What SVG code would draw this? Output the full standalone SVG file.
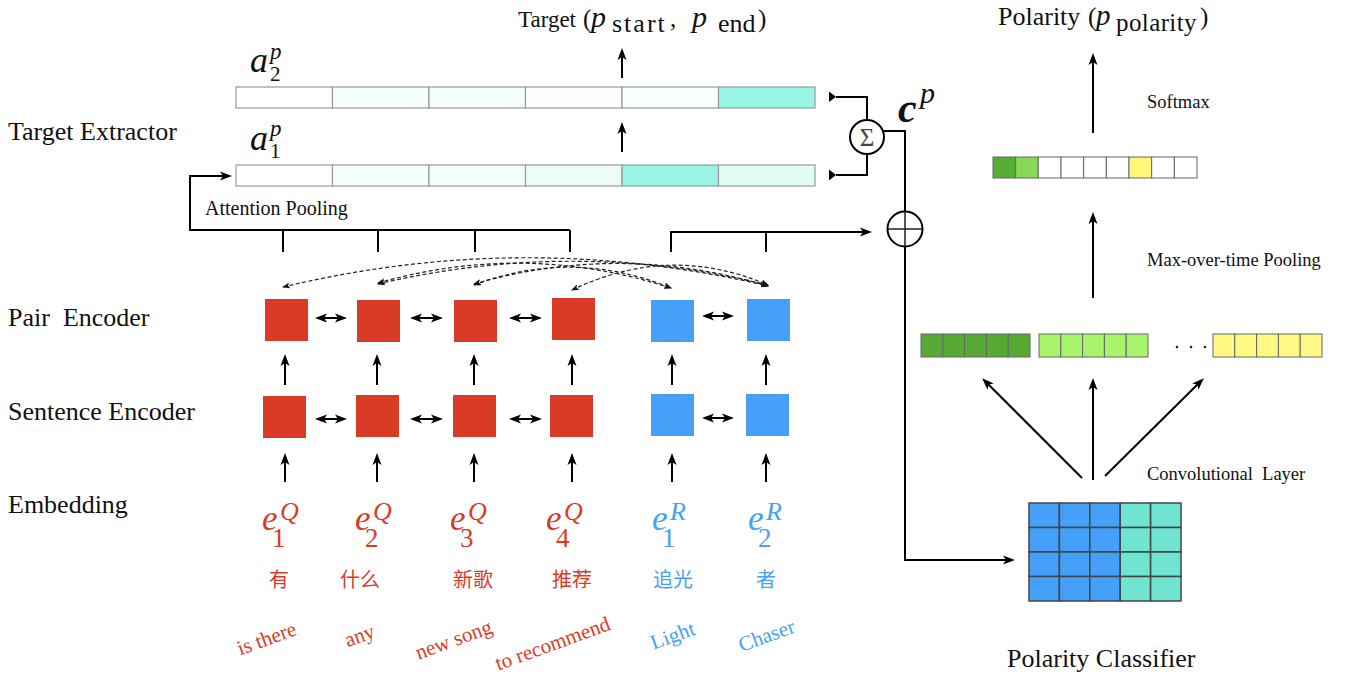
<svg xmlns="http://www.w3.org/2000/svg" width="1348" height="677" viewBox="0 0 1348 677">
<style>
text{font-family:"Liberation Serif","Times New Roman",serif;fill:#111}
.lab{font-size:26px;white-space:pre}
.sm{font-size:18.5px;white-space:pre}
.it{font-style:italic}
.ln{stroke:#000;stroke-width:2;fill:none}
.ar{marker-end:url(#ah)}
.dar{marker-start:url(#ah);marker-end:url(#ah)}
.dash{stroke:#222;stroke-width:1.2;stroke-dasharray:4 2.5;fill:none;marker-start:url(#dh);marker-end:url(#dh)}
.cell{stroke:#999;stroke-width:1.2}
.red{fill:#da3b26}
.blue{fill:#47a0f7}
.vc{stroke:#666;stroke-width:1}
.gc{stroke:#444;stroke-width:1.5}
.cjk{font-family:"Noto Sans CJK SC",sans-serif;font-size:20px;text-anchor:middle}
.eng{font-size:21px;text-anchor:middle}
.emb{font-size:35px;font-style:italic}
.sup{font-size:26px;font-style:italic}
.sub{font-size:27px;font-style:normal}
</style>
<defs>
<marker id="ah" viewBox="0 0 12 10" markerWidth="12" markerHeight="10" refX="8" refY="5" orient="auto-start-reverse" markerUnits="userSpaceOnUse">
<path d="M0,0.5 L12,5 L0,9.5 L3,5 z" fill="#000"/>
</marker>
<marker id="dh" viewBox="0 0 8 6" markerWidth="8" markerHeight="6" refX="7" refY="3" orient="auto-start-reverse" markerUnits="userSpaceOnUse">
<path d="M0,0 L8,3 L0,6 L2,3 z" fill="#111"/>
</marker>
</defs>

<g id="layer-labels">
<text class="lab" x="8" y="140">Target Extractor</text>
<text class="lab" x="8" y="326">Pair  Encoder</text>
<text class="lab" x="8" y="420">Sentence Encoder</text>
<text class="lab" x="8" y="513">Embedding</text>
</g>

<g id="target-title">
<text x="518" y="27" style="font-size:23px">Target<tspan x="583" style="font-size:25px">(</tspan><tspan x="591" class="it" style="font-size:30px">p</tspan><tspan x="612" y="32" style="font-size:26px;letter-spacing:2px">start</tspan><tspan x="670" y="27" style="font-size:25px">,</tspan><tspan x="692" class="it" style="font-size:30px">p</tspan><tspan x="718" y="32" style="font-size:26px">end</tspan><tspan x="758" y="27" style="font-size:25px">)</tspan></text>
</g>

<g id="a2-bar">
<text class="it" x="250" y="72" style="font-size:36px">a<tspan x="270" y="59" style="font-size:23px">p</tspan><tspan x="270" y="81" style="font-size:21px;font-style:normal">2</tspan></text>
<rect class="cell" x="236" y="87" width="96.5" height="21" fill="#ffffff"/>
<rect class="cell" x="332.5" y="87" width="96.5" height="21" fill="#f3fdfb"/>
<rect class="cell" x="429" y="87" width="96.5" height="21" fill="#f3fdfb"/>
<rect class="cell" x="525.5" y="87" width="96.5" height="21" fill="#fbfefd"/>
<rect class="cell" x="622" y="87" width="96.5" height="21" fill="#f8fefd"/>
<rect class="cell" x="718.5" y="87" width="96.5" height="21" fill="#98f5e5"/>
</g>

<g id="a1-bar">
<text class="it" x="250" y="150" style="font-size:36px">a<tspan x="270" y="136" style="font-size:23px">p</tspan><tspan x="270" y="158" style="font-size:21px;font-style:normal">1</tspan></text>
<rect class="cell" x="236" y="165" width="96.5" height="21" fill="#ffffff"/>
<rect class="cell" x="332.5" y="165" width="96.5" height="21" fill="#f3fdfb"/>
<rect class="cell" x="429" y="165" width="96.5" height="21" fill="#f3fdfb"/>
<rect class="cell" x="525.5" y="165" width="96.5" height="21" fill="#eefcf9"/>
<rect class="cell" x="622" y="165" width="96.5" height="21" fill="#98f5e5"/>
<rect class="cell" x="718.5" y="165" width="96.5" height="21" fill="#e2fcf7"/>
</g>

<g id="attention-pooling">
<text x="205" y="215" style="font-size:20px">Attention Pooling</text>
</g>

<g id="sum-node">
<circle cx="867" cy="137" r="17" fill="#fff" stroke="#000" stroke-width="2"/>
<text x="867" y="146" style="font-size:25px;text-anchor:middle;fill:#444">Σ</text>
<text x="898" y="122" style="font-size:42px;font-weight:bold;font-style:italic">c<tspan x="920" y="103" style="font-size:30px;font-weight:normal">p</tspan></text>
</g>

<g id="plus-node">
<circle cx="905" cy="229" r="17.5" fill="#fff" stroke="#000" stroke-width="2"/>
<path d="M887.5,229 H922.5 M905,211.5 V246.5" stroke="#222" stroke-width="1.5"/>
</g>

<g id="pair-encoder">
<rect class="red" x="265" y="299" width="43" height="42"/>
<rect class="red" x="357" y="300" width="43" height="42"/>
<rect class="red" x="454" y="300" width="43" height="42"/>
<rect class="red" x="552" y="298" width="43" height="42"/>
<rect class="blue" x="651" y="300" width="43" height="42"/>
<rect class="blue" x="747" y="299" width="43" height="42"/>
</g>

<g id="sentence-encoder">
<rect class="red" x="263" y="396" width="43" height="42"/>
<rect class="red" x="356" y="395" width="43" height="42"/>
<rect class="red" x="453" y="395" width="43" height="42"/>
<rect class="red" x="550" y="395" width="43" height="42"/>
<rect class="blue" x="651" y="394" width="43" height="42"/>
<rect class="blue" x="746" y="394" width="43" height="42"/>
</g>

<g id="embeddings">
<text class="emb red" x="262" y="530">e<tspan class="sup" x="280" y="520">Q</tspan><tspan class="sub" x="272" y="547">1</tspan></text>
<text class="emb red" x="355" y="530">e<tspan class="sup" x="373" y="520">Q</tspan><tspan class="sub" x="365" y="547">2</tspan></text>
<text class="emb red" x="450" y="530">e<tspan class="sup" x="468" y="520">Q</tspan><tspan class="sub" x="460" y="547">3</tspan></text>
<text class="emb red" x="546" y="530">e<tspan class="sup" x="564" y="520">Q</tspan><tspan class="sub" x="556" y="547">4</tspan></text>
<text class="emb blue" x="652" y="530">e<tspan class="sup" x="670" y="520">R</tspan><tspan class="sub" x="662" y="547">1</tspan></text>
<text class="emb blue" x="748" y="530">e<tspan class="sup" x="766" y="520">R</tspan><tspan class="sub" x="758" y="547">2</tspan></text>
<text class="cjk red" x="279" y="587">有</text>
<text class="cjk red" x="360" y="587">什么</text>
<text class="cjk red" x="473" y="587">新歌</text>
<text class="cjk red" x="572" y="587">推荐</text>
<text class="cjk blue" x="673" y="587">追光</text>
<text class="cjk blue" x="766" y="587">者</text>
<text class="eng red" x="269" y="645" transform="rotate(-20 269 645)">is there</text>
<text class="eng red" x="362" y="642" transform="rotate(-20 362 642)">any</text>
<text class="eng red" x="456" y="646" transform="rotate(-20 456 646)">new song</text>
<text class="eng red" x="555" y="650" transform="rotate(-20 555 650)">to recommend</text>
<text class="eng blue" x="675" y="642" transform="rotate(-20 675 642)">Light</text>
<text class="eng blue" x="769" y="642" transform="rotate(-20 769 642)">Chaser</text>
</g>

<g id="polarity-title">
<text x="998" y="25" style="font-size:26px">Polarity<tspan x="1088" style="font-size:25px">(</tspan><tspan x="1096" class="it" style="font-size:29px">p</tspan><tspan x="1116" y="31" style="font-size:25px;letter-spacing:0.4px">polarity</tspan><tspan x="1200" y="25" style="font-size:25px">)</tspan></text>
</g>

<g id="softmax">
<text class="sm" x="1147" y="108">Softmax</text>
<rect class="vc" x="993" y="157" width="22.67" height="21" fill="#55ad35"/>
<rect class="vc" x="1015.67" y="157" width="22.67" height="21" fill="#88d858"/>
<rect class="vc" x="1038.33" y="157" width="22.67" height="21" fill="#fff"/>
<rect class="vc" x="1061" y="157" width="22.67" height="21" fill="#fff"/>
<rect class="vc" x="1083.67" y="157" width="22.67" height="21" fill="#fff"/>
<rect class="vc" x="1106.33" y="157" width="22.67" height="21" fill="#fff"/>
<rect class="vc" x="1129" y="157" width="22.67" height="21" fill="#fff87a"/>
<rect class="vc" x="1151.67" y="157" width="22.67" height="21" fill="#fff"/>
<rect class="vc" x="1174.33" y="157" width="22.67" height="21" fill="#fff"/>
</g>

<g id="max-pooling">
<text class="sm" x="1147" y="266">Max-over-time Pooling</text>
<g fill="#56aa33">
<rect class="vc" x="921" y="334" width="21.8" height="23"/><rect class="vc" x="942.8" y="334" width="21.8" height="23"/><rect class="vc" x="964.6" y="334" width="21.8" height="23"/><rect class="vc" x="986.4" y="334" width="21.8" height="23"/><rect class="vc" x="1008.2" y="334" width="21.8" height="23"/>
</g>
<g fill="#a8f46a">
<rect class="vc" x="1039" y="334" width="21.8" height="23"/><rect class="vc" x="1060.8" y="334" width="21.8" height="23"/><rect class="vc" x="1082.6" y="334" width="21.8" height="23"/><rect class="vc" x="1104.4" y="334" width="21.8" height="23"/><rect class="vc" x="1126.2" y="334" width="21.8" height="23"/>
</g>
<g fill="#fff882">
<rect class="vc" x="1213" y="334" width="21.8" height="23"/><rect class="vc" x="1234.8" y="334" width="21.8" height="23"/><rect class="vc" x="1256.6" y="334" width="21.8" height="23"/><rect class="vc" x="1278.4" y="334" width="21.8" height="23"/><rect class="vc" x="1300.2" y="334" width="21.8" height="23"/>
</g>
<circle cx="1177" cy="347" r="1.3" fill="#222"/><circle cx="1191" cy="347" r="1.3" fill="#222"/><circle cx="1205" cy="347" r="1.3" fill="#222"/>
</g>

<g id="conv-layer">
<text class="sm" x="1147" y="480">Convolutional  Layer</text>
</g>

<g id="polarity-classifier">
<g fill="#44a0f8">
<rect class="gc" x="1029" y="503" width="30.4" height="24.5"/><rect class="gc" x="1059.4" y="503" width="30.4" height="24.5"/><rect class="gc" x="1089.8" y="503" width="30.4" height="24.5"/>
<rect class="gc" x="1029" y="527.5" width="30.4" height="24.5"/><rect class="gc" x="1059.4" y="527.5" width="30.4" height="24.5"/><rect class="gc" x="1089.8" y="527.5" width="30.4" height="24.5"/>
<rect class="gc" x="1029" y="552" width="30.4" height="24.5"/><rect class="gc" x="1059.4" y="552" width="30.4" height="24.5"/><rect class="gc" x="1089.8" y="552" width="30.4" height="24.5"/>
<rect class="gc" x="1029" y="576.5" width="30.4" height="24.5"/><rect class="gc" x="1059.4" y="576.5" width="30.4" height="24.5"/><rect class="gc" x="1089.8" y="576.5" width="30.4" height="24.5"/>
</g>
<g fill="#6ee4d1">
<rect class="gc" x="1120.2" y="503" width="30.4" height="24.5"/><rect class="gc" x="1150.6" y="503" width="30.4" height="24.5"/>
<rect class="gc" x="1120.2" y="527.5" width="30.4" height="24.5"/><rect class="gc" x="1150.6" y="527.5" width="30.4" height="24.5"/>
<rect class="gc" x="1120.2" y="552" width="30.4" height="24.5"/><rect class="gc" x="1150.6" y="552" width="30.4" height="24.5"/>
<rect class="gc" x="1120.2" y="576.5" width="30.4" height="24.5"/><rect class="gc" x="1150.6" y="576.5" width="30.4" height="24.5"/>
</g>
<text x="1007" y="667" style="font-size:26px">Polarity Classifier</text>
</g>

<g id="connectors">
<line class="ln ar" x1="622" y1="78" x2="622" y2="52"/>
<line class="ln ar" x1="622" y1="152" x2="622" y2="126"/>
<path class="ln" d="M190,230 H570 M283,230 V252 M378,230 V252 M475,230 V252 M570,230 V252"/>
<path class="ln ar" d="M190,231 V176 H228"/>
<path class="ln ar" d="M671,252 V232 H868"/>
<line class="ln" x1="766" y1="232" x2="766" y2="252"/>
<polygon points="829,91.5 829,102 836,96.75" fill="#000"/>
<polygon points="829,169.5 829,180.5 836,175" fill="#000"/>
<path class="ln" d="M836,97 H867 V120"/>
<path class="ln" d="M836,175 H867 V154"/>
<path class="ln" d="M884,131 H905 V211.5"/>
<path class="ln ar" d="M905,246.5 V560 H1011"/>
<path class="dash" d="M283,287 Q525,229 768,286"/>
<path class="dash" d="M378,283 Q525,241 671,288"/>
<path class="dash" d="M378,284 Q573,238 768,285"/>
<path class="dash" d="M474,284 Q620,242 768,286"/>
<path class="dash" d="M474,285 Q572,248 671,288"/>
<path class="dash" d="M572,290 Q670,243 768,285"/>
<line class="ln dar" x1="319" y1="318" x2="343" y2="318"/>
<line class="ln dar" x1="414" y1="318" x2="439" y2="318"/>
<line class="ln dar" x1="513" y1="318" x2="538" y2="318"/>
<line class="ln dar" x1="706" y1="316" x2="730" y2="316"/>
<line class="ln dar" x1="319" y1="419" x2="343" y2="419"/>
<line class="ln dar" x1="414" y1="419" x2="439" y2="419"/>
<line class="ln dar" x1="513" y1="419" x2="538" y2="419"/>
<line class="ln dar" x1="706" y1="418" x2="730" y2="418"/>
<line class="ln ar" x1="285" y1="385" x2="285" y2="358"/>
<line class="ln ar" x1="377" y1="385" x2="377" y2="358"/>
<line class="ln ar" x1="474" y1="385" x2="474" y2="358"/>
<line class="ln ar" x1="572" y1="385" x2="572" y2="358"/>
<line class="ln ar" x1="672" y1="385" x2="672" y2="358"/>
<line class="ln ar" x1="766" y1="385" x2="766" y2="358"/>
<line class="ln ar" x1="285" y1="482" x2="285" y2="457"/>
<line class="ln ar" x1="377" y1="482" x2="377" y2="457"/>
<line class="ln ar" x1="474" y1="482" x2="474" y2="457"/>
<line class="ln ar" x1="572" y1="482" x2="572" y2="457"/>
<line class="ln ar" x1="672" y1="482" x2="672" y2="457"/>
<line class="ln ar" x1="766" y1="482" x2="766" y2="457"/>
<line class="ln ar" x1="1093" y1="133" x2="1093" y2="57"/>
<line class="ln ar" x1="1093" y1="298" x2="1093" y2="216"/>
<line class="ln ar" x1="1093" y1="480" x2="1093" y2="382"/>
<line class="ln ar" x1="1082" y1="478" x2="985" y2="381"/>
<line class="ln ar" x1="1105" y1="476" x2="1201" y2="381"/>
</g>
</svg>
